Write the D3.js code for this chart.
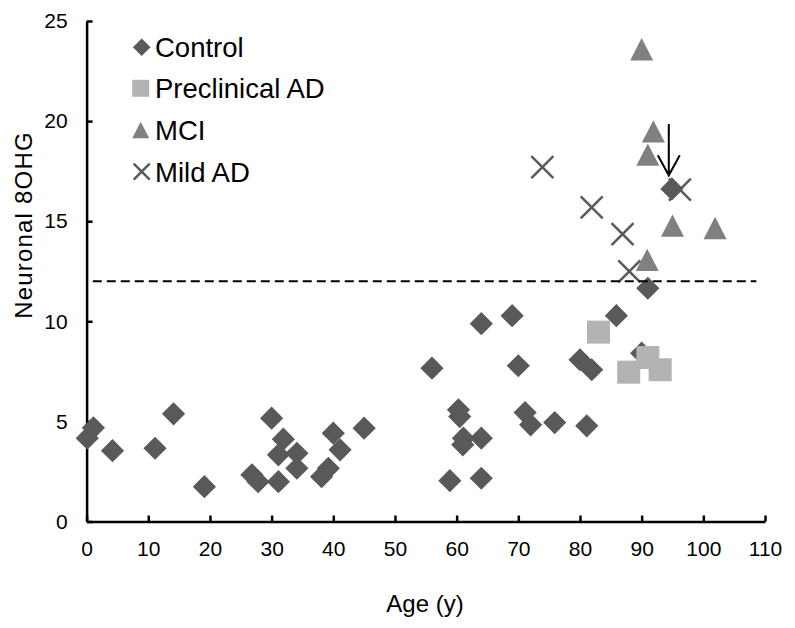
<!DOCTYPE html>
<html><head><meta charset="utf-8">
<script src="https://cdn.jsdelivr.net/npm/d3@7"></script>
<style>body{margin:0;background:#fff}svg{display:block}text{font-family:"Liberation Sans",Arial,sans-serif}</style>
</head><body><svg id="c" width="795" height="628"></svg>
<script>
const seriesNames = ["Control","Preclinical AD","MCI","Mild AD"];
const controlAge = [0.1,1.1,4.2,11.1,14.1,19.1,26.8,27.8,30.0,31.1,31.1,31.9,34.1,34.1,38.1,39.2,40.0,41.1,45.0,56.0,58.9,60.3,60.5,61.1,61.0,64.0,64.0,64.0,69.0,70.0,71.1,72.0,75.9,80.0,81.9,81.1,85.9,90.0,91.0,94.9];
const control8OHG = [4.16,4.68,3.54,3.66,5.38,1.74,2.33,1.99,5.16,3.33,1.99,4.11,3.41,2.66,2.24,2.66,4.41,3.58,4.66,7.66,2.04,5.58,5.24,4.16,3.83,9.88,4.16,2.16,10.28,7.78,5.44,4.83,4.94,8.08,7.58,4.78,10.28,8.41,11.65,16.61];
const preclinAge = [83.0,87.9,91.0,93.0];
const preclin8OHG = [9.46,7.46,8.19,7.58];
const mciAge = [90.0,91.9,91.0,95.0,101.9,90.9];
const mci8OHG = [23.59,19.49,18.33,14.78,14.66,13.07];
const mildAge = [73.9,81.9,86.9,88.0,96.2];
const mild8OHG = [17.7,15.69,14.36,12.49,16.58];
const xTicks = [0,10,20,30,40,50,60,70,80,90,100,110];
const yTicks = [0,5,10,15,20,25];
const threshold = 12;
const arrowAge = 94.4, arrowFrom = 19.86, arrowTo = 17.29;

const svg = d3.select("#c");
const x = d3.scaleLinear().domain([0,110]).range([86.6,765]);
const y = d3.scaleLinear().domain([0,25]).range([521.5,21]);

// axes
const xa = svg.append("g").attr("transform","translate(0,521.5)")
  .call(d3.axisBottom(x).tickValues(xTicks).tickSizeInner(-6).tickSizeOuter(0).tickPadding(20));
const ya = svg.append("g").attr("transform","translate(86.6,0)")
  .call(d3.axisLeft(y).tickValues(yTicks).tickSizeInner(-6).tickSizeOuter(0).tickPadding(19));
[xa,ya].forEach(a=>{
  a.select(".domain").attr("stroke","#000").attr("stroke-width",2.5);
  a.selectAll(".tick line").attr("stroke","#000").attr("stroke-width",2.5);
  a.selectAll("text").attr("font-size",21).attr("fill","#000").attr("font-family","'Liberation Sans',Arial,sans-serif");
});

svg.append("text").attr("x",425).attr("y",612).attr("text-anchor","middle").attr("font-size",24).text("Age (y)");
svg.append("text").attr("transform","translate(32,225) rotate(-90)").attr("text-anchor","middle").attr("font-size",24).attr("letter-spacing",1.2).text("Neuronal 8OHG");

const dark="#595959", light="#b3b3b3", mid="#808080";
function diamond(g,cx,cy,r,col){g.append("path").attr("d",`M${cx},${cy-r}L${cx+r},${cy}L${cx},${cy+r}L${cx-r},${cy}Z`).attr("fill",col);}
function square(g,cx,cy,s,col){g.append("rect").attr("x",cx-s/2).attr("y",cy-s/2).attr("width",s).attr("height",s).attr("fill",col);}
function tri(g,cx,cy,w,col){const h=w*0.97;g.append("path").attr("d",`M${cx},${cy-h/2}L${cx+w/2},${cy+h/2}L${cx-w/2},${cy+h/2}Z`).attr("fill",col);}
function cross(g,cx,cy,r,col){g.append("path").attr("d",`M${cx-r},${cy-r}L${cx+r},${cy+r}M${cx-r},${cy+r}L${cx+r},${cy-r}`).attr("stroke",col).attr("stroke-width",2.5).attr("fill","none");}

const pts = svg.append("g");
controlAge.forEach((a,i)=>diamond(pts,x(a),y(control8OHG[i]),11.6,dark));
preclinAge.forEach((a,i)=>square(pts,x(a),y(preclin8OHG[i]),23,light));
mciAge.forEach((a,i)=>tri(pts,x(a),y(mci8OHG[i]),23,mid));
mildAge.forEach((a,i)=>cross(pts,x(a),y(mild8OHG[i]),11,dark));

// threshold
svg.append("line").attr("x1",x(1)).attr("x2",x(108.6)).attr("y1",y(threshold)).attr("y2",y(threshold))
  .attr("stroke","#000").attr("stroke-width",2).attr("stroke-dasharray","9,5");

// arrow
const ax=x(arrowAge), ay1=y(arrowFrom), ay2=y(arrowTo);
svg.append("path").attr("d",`M${ax},${ay1}L${ax},${ay2}M${ax-11},${ay2-20}L${ax},${ay2}L${ax+11},${ay2-20}`)
  .attr("stroke","#000").attr("stroke-width",2).attr("fill","none");

// legend
const lg = svg.append("g");
const ly = [47.3,88.3,130,171.7];
diamond(lg,141.7,ly[0],8.8,dark);
square(lg,140.7,ly[1],17,light);
tri(lg,140.7,ly[2],17,mid);
cross(lg,141.7,ly[3],8,dark);
seriesNames.forEach((n,i)=>lg.append("text").attr("x",155).attr("y",ly[i]+10).attr("font-size",27.5).attr("fill","#000").text(n));
</script></body></html>
